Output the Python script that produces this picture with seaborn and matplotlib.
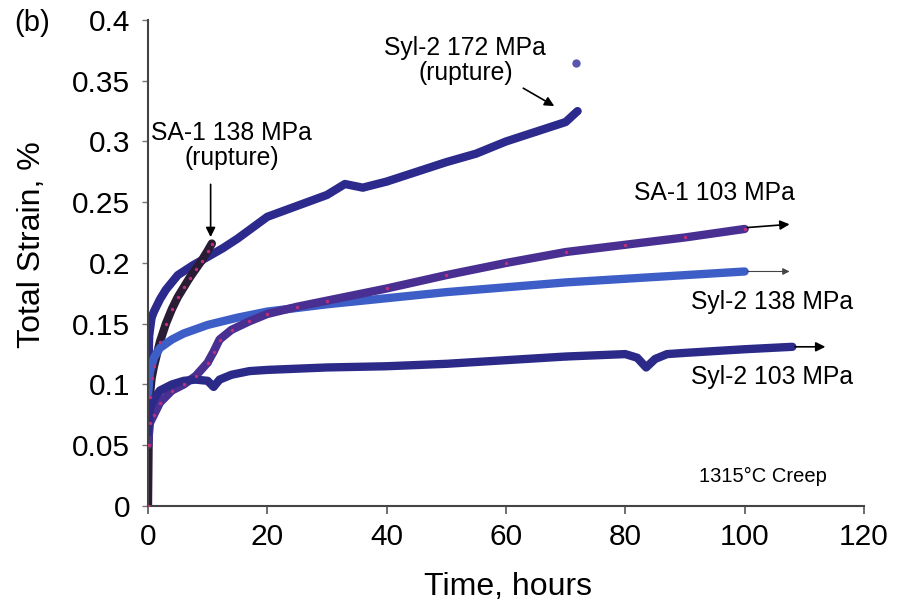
import numpy as np
import pandas as pd
import matplotlib
matplotlib.use("Agg")
import matplotlib.pyplot as plt
from matplotlib.ticker import FuncFormatter
import seaborn as sns

# creep curves (time in hours, total strain in %)
syl2_172_t = [0, 0.2, 0.6, 1, 2, 3, 5, 7.5, 10, 12.5, 15, 20, 25, 30, 33, 36, 40, 45, 50, 55, 60, 65, 70, 72]
syl2_172_e = [0.10, 0.14, 0.155, 0.16, 0.17, 0.178, 0.19, 0.198, 0.205, 0.212, 0.22, 0.238, 0.247, 0.256, 0.265, 0.262, 0.267, 0.275, 0.283, 0.29, 0.30, 0.308, 0.316, 0.325]

sa1_138_t = [0, 0.1, 0.3, 0.6, 1, 2, 3, 4, 5, 6, 7, 8, 9, 10, 10.7]
sa1_138_e = [0.0, 0.05, 0.09, 0.105, 0.115, 0.135, 0.15, 0.162, 0.172, 0.18, 0.188, 0.195, 0.202, 0.21, 0.216]

syl2_138_t = [0, 0.3, 1, 2, 4, 6, 10, 15, 20, 30, 40, 50, 60, 70, 80, 90, 100]
syl2_138_e = [0.09, 0.11, 0.122, 0.13, 0.137, 0.142, 0.149, 0.155, 0.16, 0.166, 0.171, 0.176, 0.18, 0.184, 0.187, 0.19, 0.193]

sa1_103_t = [0, 0.3, 1, 2, 4, 6, 8, 10, 11, 12, 14, 17, 20, 25, 30, 40, 50, 60, 70, 80, 90, 100]
sa1_103_e = [0.05, 0.068, 0.075, 0.085, 0.095, 0.1, 0.107, 0.118, 0.127, 0.137, 0.145, 0.152, 0.158, 0.164, 0.169, 0.179, 0.19, 0.2, 0.209, 0.215, 0.221, 0.228]

syl2_103_t = [0, 0.3, 1, 2, 4, 6, 8, 10, 11, 12, 14, 17, 20, 30, 40, 50, 60, 70, 80, 82, 83.5, 85, 87, 90, 100, 108]
syl2_103_e = [0.06, 0.08, 0.088, 0.095, 0.1, 0.103, 0.104, 0.103, 0.098, 0.104, 0.108, 0.111, 0.112, 0.114, 0.115, 0.117, 0.12, 0.123, 0.125, 0.122, 0.114, 0.121, 0.125, 0.126, 0.129, 0.131]

series = {
    "Syl-2 172 MPa": (syl2_172_t, syl2_172_e),
    "SA-1 138 MPa": (sa1_138_t, sa1_138_e),
    "Syl-2 138 MPa": (syl2_138_t, syl2_138_e),
    "SA-1 103 MPa": (sa1_103_t, sa1_103_e),
    "Syl-2 103 MPa": (syl2_103_t, syl2_103_e),
}
colors = {
    "Syl-2 172 MPa": "#2c2a8c",
    "SA-1 138 MPa": "#2a1c34",
    "Syl-2 138 MPa": "#3d5ec6",
    "SA-1 103 MPa": "#4a2f92",
    "Syl-2 103 MPa": "#2b2a88",
}

rows = []
for name, (t, e) in series.items():
    for ti, ei in zip(t, e):
        rows.append((name, ti, ei))
df = pd.DataFrame(rows, columns=["test", "time", "strain"])

sns.set_style("ticks")
plt.rcParams["font.family"] = ["Liberation Sans", "DejaVu Sans"]
plt.rcParams["text.color"] = "black"
plt.rcParams["axes.labelcolor"] = "black"
plt.rcParams["xtick.color"] = "black"
plt.rcParams["ytick.color"] = "black"

fig = plt.figure(figsize=(8.99, 6.13), dpi=100)
ax = fig.add_axes([0.1646, 0.1746, 0.7964, 0.7928])

sns.lineplot(data=df, x="time", y="strain", hue="test", palette=colors,
             linewidth=6, marker="o", markersize=4, markeredgewidth=0,
             estimator=None, sort=False, legend=False, ax=ax)

# magenta speckles on the SA-1 curves
for name in ["SA-1 138 MPa", "SA-1 103 MPa"]:
    sub = df[df["test"] == name]
    sns.scatterplot(data=sub, x="time", y="strain", color="#c0307a", s=6,
                    linewidth=0, ax=ax, legend=False, zorder=4)

# stray point above Syl-2 172 rupture
ax.plot([71.7], [0.365], "o", color="#5a55b0", markersize=5, zorder=5)

ax.set_xlim(0, 120)
ax.set_ylim(0, 0.4)
ax.set_xticks(np.arange(0, 121, 20))
ax.set_yticks(np.arange(0, 0.401, 0.05))
ax.yaxis.set_major_formatter(FuncFormatter(lambda v, p: "%g" % round(v, 2)))
ax.tick_params(axis="x", labelsize=21.5, direction="out", length=6, width=1.2,
               color="#555555", pad=6)
ax.tick_params(axis="y", labelsize=21.5, direction="out", length=4, width=1,
               color="#777777", pad=9)
ax.set_xlabel("Time, hours", fontsize=23)
ax.set_ylabel("Total Strain, %", fontsize=23)
ax.xaxis.set_label_coords(0.503, -0.136)
ax.yaxis.set_label_coords(-0.141, 0.537)
for s in ["left", "bottom"]:
    ax.spines[s].set_color("#444444")
    ax.spines[s].set_linewidth(1.5)
sns.despine(ax=ax)

arrow = dict(arrowstyle="-|>", color="black", lw=1.2, mutation_scale=14)
ax.annotate("", xy=(10.5, 0.219), xytext=(10.5, 0.267), arrowprops=arrow)
ax.annotate("", xy=(68.5, 0.328), xytext=(62.5, 0.345), arrowprops=arrow)
ax.annotate("", xy=(108, 0.232), xytext=(100, 0.229), arrowprops=arrow)
ax.annotate("", xy=(108, 0.193), xytext=(100, 0.193),
            arrowprops=dict(arrowstyle="-|>", color="#444444", lw=0.8, mutation_scale=10))
ax.annotate("", xy=(114, 0.131), xytext=(108, 0.131), arrowprops=arrow)

fs = 17.8
ax.text(53.2, 0.367, "Syl-2 172 MPa\n(rupture)", fontsize=fs, ha="center", va="center", linespacing=1.05)
ax.text(14, 0.297, "SA-1 138 MPa\n(rupture)", fontsize=fs, ha="center", va="center", linespacing=1.05)
ax.text(81.5, 0.258, "SA-1 103 MPa", fontsize=fs, ha="left", va="center")
ax.text(91, 0.168, "Syl-2 138 MPa", fontsize=fs, ha="left", va="center")
ax.text(91, 0.106, "Syl-2 103 MPa", fontsize=fs, ha="left", va="center")
ax.text(92.3, 0.024, "1315\u00b0C Creep", fontsize=14.5, ha="left", va="center")
fig.text(0.016, 0.963, "(b)", fontsize=21, ha="left", va="center")

fig.savefig("out.png", dpi=100)
